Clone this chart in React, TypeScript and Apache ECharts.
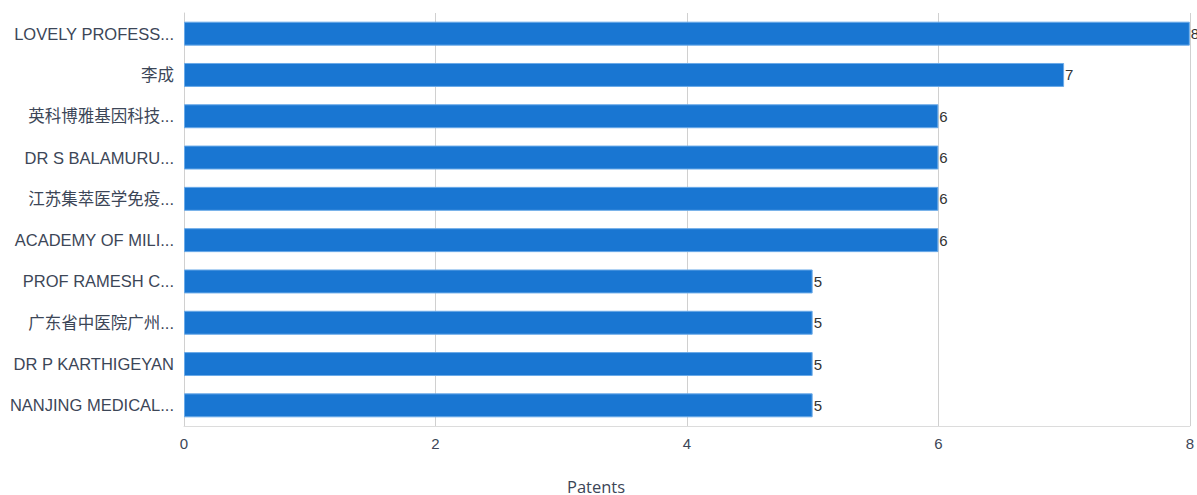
import React, { useEffect, useRef } from "react";
import * as echarts from "echarts";

const categories = [
  "LOVELY PROFESS...",
  "李成",
  "英科博雅基因科技...",
  "DR S BALAMURU...",
  "江苏集萃医学免疫...",
  "ACADEMY OF MILI...",
  "PROF RAMESH C...",
  "广东省中医院广州...",
  "DR P KARTHIGEYAN",
  "NANJING MEDICAL...",
];
const values = [8, 7, 6, 6, 6, 6, 5, 5, 5, 5];
const xTicks = { min: 0, max: 8, interval: 2 };
const axisName = "Patents";

export default function App() {
  const ref = useRef<HTMLDivElement>(null);
  useEffect(() => {
    document.body.style.overflow = "hidden";
    document.documentElement.style.overflow = "hidden";
    if (!ref.current) return;
    const chart = echarts.init(ref.current, undefined, { renderer: "svg" });
    const font = "Arial, 'Liberation Sans', 'Noto Sans CJK SC', sans-serif";
    chart.setOption({
      animation: false,
      grid: { left: 184, right: 3, top: 13, bottom: 69, containLabel: false },
      graphic: [
        {
          type: "text",
          left: 567,
          top: 478,
          style: {
            text: axisName,
            fill: "#3c4657",
            fontSize: 16.5,
            fontFamily: "'Open Sans', sans-serif",
          },
        },
      ],
      xAxis: {
        type: "value",
        min: xTicks.min,
        max: xTicks.max,
        interval: xTicks.interval,
        axisLine: { show: true, lineStyle: { color: "#dcdcdc" } },
        axisTick: { show: false },
        axisLabel: { color: "#3c4657", fontSize: 15, fontFamily: font, margin: 10 },
        splitLine: { show: true, lineStyle: { color: "#d0d0d0" } },
      },
      yAxis: {
        type: "category",
        data: categories,
        inverse: true,
        axisLine: { show: true, lineStyle: { color: "#d0d0d0" } },
        axisTick: { show: false },
        axisLabel: { color: "#3c4657", fontSize: 16.5, fontFamily: font, margin: 10 },
        splitLine: { show: false },
      },
      series: [
        {
          type: "bar",
          data: values,
          barCategoryGap: "42%",
          itemStyle: { color: "#1976d2", borderColor: "#6aaae8", borderWidth: 1 },
          label: {
            show: true,
            position: "right",
            distance: 1,
            color: "#333333",
            fontSize: 15,
            fontFamily: font,
          },
        },
      ],
    });
    return () => chart.dispose();
  }, []);
  return (
    <div
      ref={ref}
      style={{ position: "absolute", left: 0, top: 0, width: 1197, height: 495 }}
    />
  );
}
